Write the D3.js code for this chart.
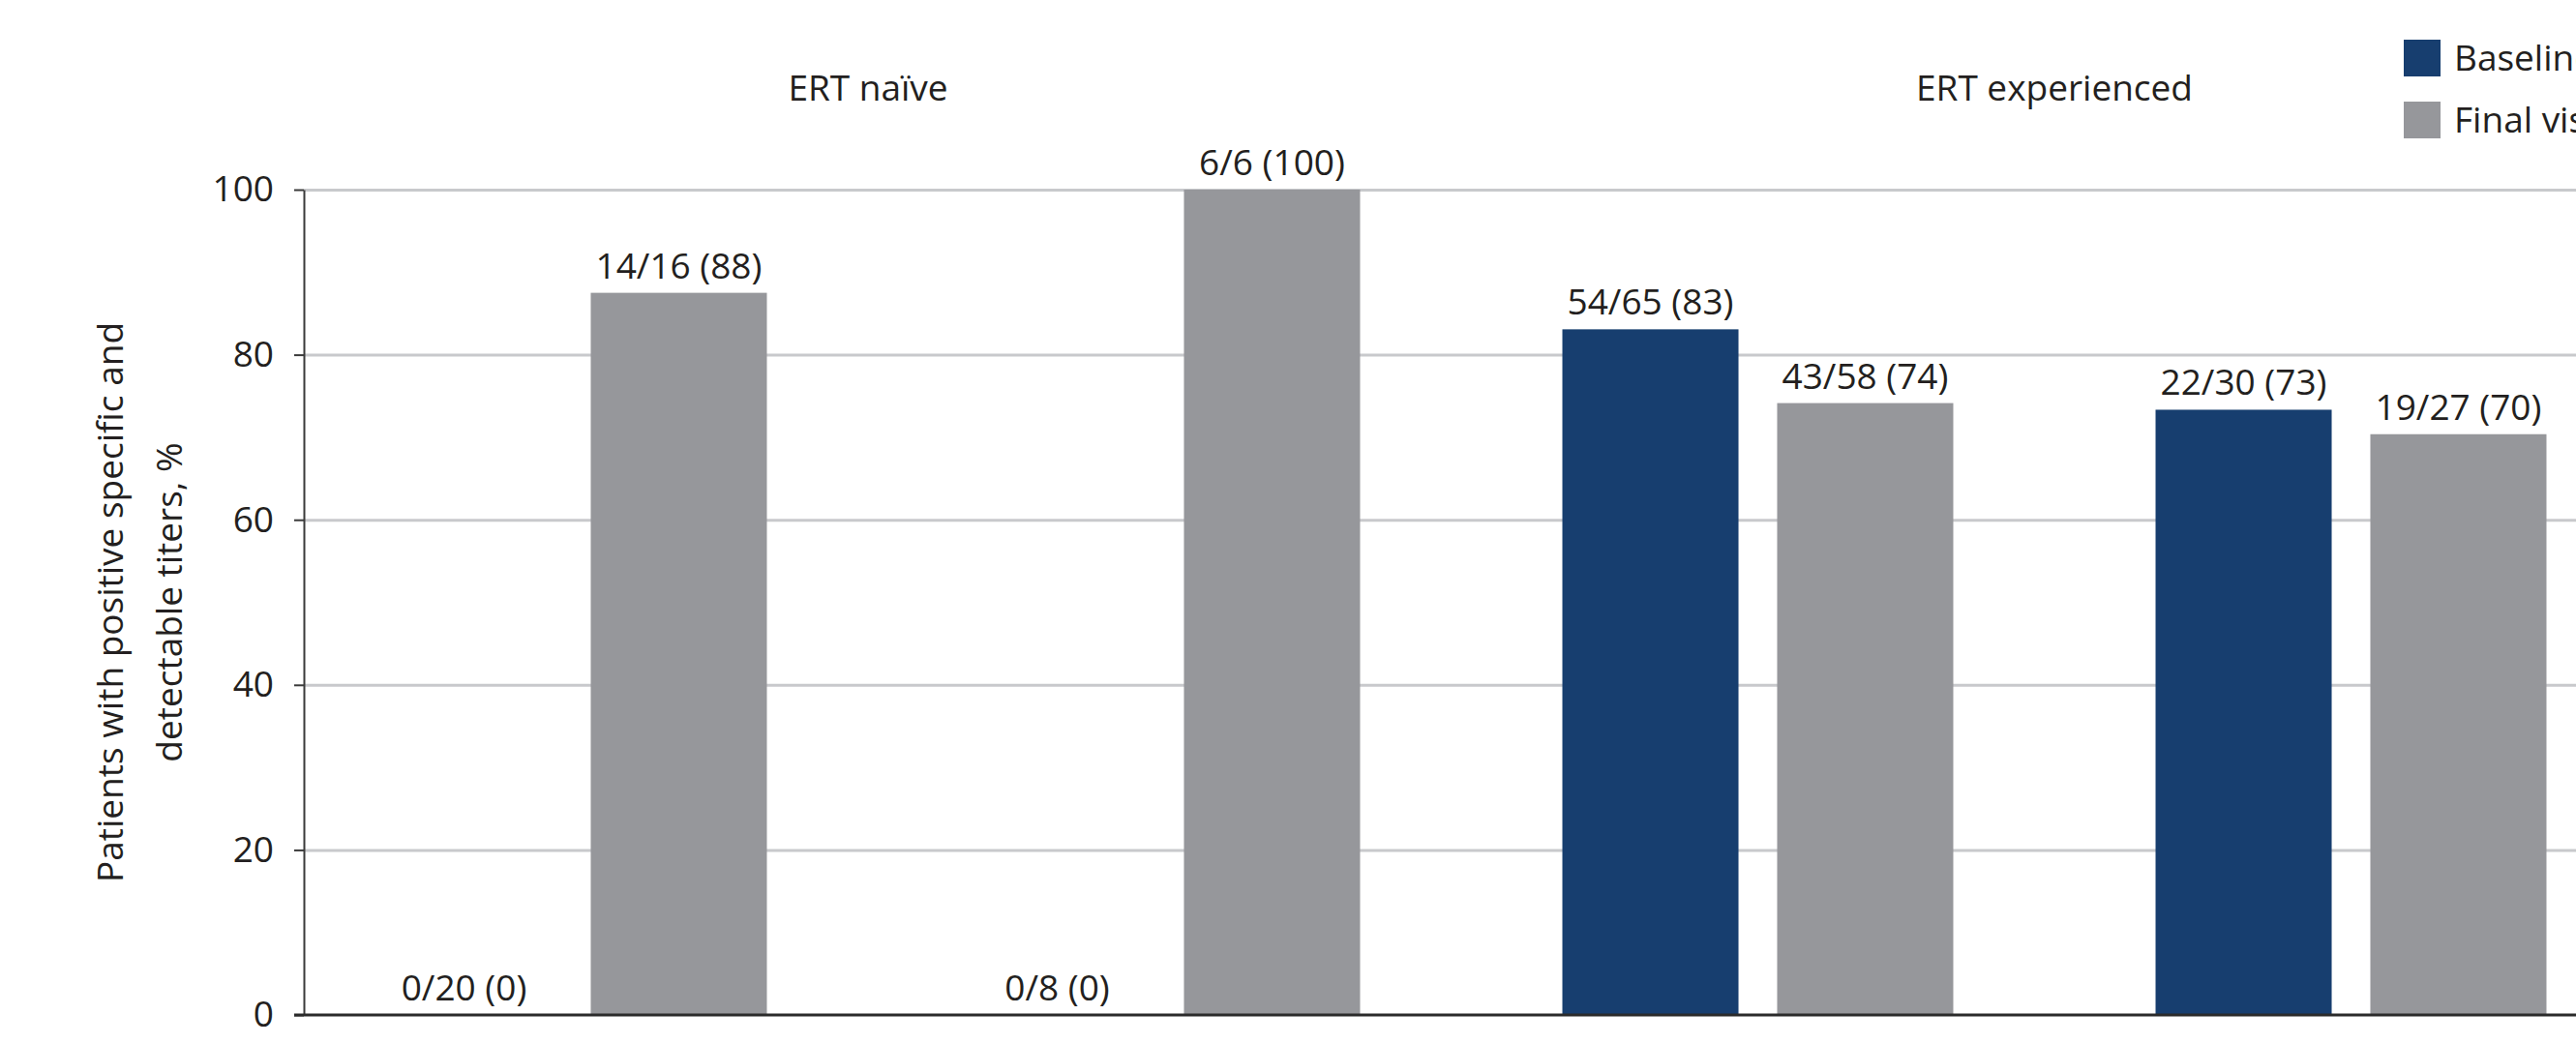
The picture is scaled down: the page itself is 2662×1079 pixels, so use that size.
<!DOCTYPE html>
<html>
<head>
<meta charset="utf-8">
<title>ERT titers</title>
<script src="https://cdnjs.cloudflare.com/ajax/libs/d3/7.8.5/d3.min.js"></script>
<style>
    body {
        margin: 0;
        padding: 0;
        background: #ffffff;
    }
    svg {
        display: block;
        font-family: 'Open Sans', sans-serif;
    }
    .txt {
        font-size: 37px;
        fill: #231f20;
    }
    .grid line {
        stroke: #c8c9cc;
        stroke-width: 3;
    }
    .yaxis path, .yaxis line {
        stroke: #3a3a3a;
        stroke-width: 2;
    }
    .yaxis text {
        font-family: 'Open Sans', sans-serif;
        font-size: 37px;
        fill: #231f20;
    }
</style>
</head>
<body>
<svg id="chart" width="2662" height="1079"></svg>
<script>
// data
var categories = ["naive_1", "naive_2", "exp_1", "exp_2"];
var cohorts = ["ERT naïve", "ERT experienced"];
var cohortOf = ["ERT naïve", "ERT naïve", "ERT experienced", "ERT experienced"];
var series = ["Baseline", "Final visit"];
var baselinePos = [0, 0, 54, 22];
var baselineTotal = [20, 8, 65, 30];
var finalPos = [14, 6, 43, 19];
var finalTotal = [16, 6, 58, 27];
var yTicks = [0, 20, 40, 60, 80, 100];

var colours = {
    "Baseline": "#173e6f",
    "Final visit": "#96979b"
};

var W = 2662, H = 1079;
// (window.top is read-only, so use other names)
var plotLeft = 314, plotTop = 196, plotBottom = 1049;

var svg = d3.select("#chart");

// build rows
var rows = categories.map(function(c, i) {
    return {
        cat: c,
        cohort: cohortOf[i],
        bars: [
            { s: "Baseline", n: baselinePos[i], N: baselineTotal[i] },
            { s: "Final visit", n: finalPos[i], N: finalTotal[i] }
        ]
    };
});

var y = d3.scaleLinear().domain([0, 100]).range([plotBottom, plotTop]);

var x0 = d3.scaleBand()
    .domain(categories)
    .range([284, 2736])
    .paddingInner(0.341)
    .paddingOuter(0.1705);

var x1 = d3.scaleBand()
    .domain(series)
    .range([0, x0.bandwidth()])
    .paddingInner(0.18);

// gridlines
svg.append("g")
    .attr("class", "grid")
    .attr("transform", "translate(" + plotLeft + ",0)")
    .call(d3.axisLeft(y)
        .tickValues(yTicks.filter(function(v) { return v > 0; }))
        .tickSize(-(W - plotLeft))
        .tickFormat(""))
    .call(function(g) { g.select(".domain").remove(); });

// bars
var groups = svg.selectAll(".cat")
    .data(rows)
    .enter()
    .append("g")
    .attr("class", "cat")
    .attr("transform", function(d) { return "translate(" + x0(d.cat) + ",0)"; });

groups.selectAll("rect")
    .data(function(d) { return d.bars; })
    .enter()
    .append("rect")
    .attr("x", function(d) { return x1(d.s); })
    .attr("width", x1.bandwidth())
    .attr("y", function(d) { return y(d.n / d.N * 100); })
    .attr("height", function(d) { return plotBottom - y(d.n / d.N * 100); })
    .style("fill", function(d) { return colours[d.s]; });

groups.selectAll("text")
    .data(function(d) { return d.bars; })
    .enter()
    .append("text")
    .attr("class", "txt")
    .attr("text-anchor", "middle")
    .attr("x", function(d) { return x1(d.s) + x1.bandwidth() / 2; })
    .attr("y", function(d) { return y(d.n / d.N * 100) - 15; })
    .text(function(d) { return d.n + "/" + d.N + " (" + Math.round(d.n / d.N * 100) + ")"; });

// y axis
svg.append("g")
    .attr("class", "yaxis")
    .attr("transform", "translate(" + plotLeft + ",0)")
    .call(d3.axisLeft(y).tickValues(yTicks).tickSize(10).tickSizeOuter(0).tickPadding(21));

// zero line
svg.append("line")
    .attr("x1", plotLeft - 10)
    .attr("x2", W)
    .attr("y1", y(0))
    .attr("y2", y(0))
    .style("stroke", "#2b2b2b")
    .style("stroke-width", 3);

// cohort headers
svg.selectAll(".cohort")
    .data(cohorts)
    .enter()
    .append("text")
    .attr("class", "txt cohort")
    .attr("text-anchor", "middle")
    .attr("x", function(c) {
        var cats = categories.filter(function(k, i) { return cohortOf[i] == c; });
        return d3.mean(cats, function(k) { return x0(k) + x0.bandwidth() / 2; });
    })
    .attr("y", 104)
    .text(function(c) { return c; });

// legend
var legend = svg.append("g").attr("transform", "translate(2484,41)");
var lg = legend.selectAll("g")
    .data(series)
    .enter()
    .append("g")
    .attr("transform", function(d, i) { return "translate(0," + (i * 64) + ")"; });
lg.append("rect")
    .attr("width", 38)
    .attr("height", 38)
    .style("fill", function(d) { return colours[d]; });
lg.append("text")
    .attr("class", "txt")
    .attr("x", 52)
    .attr("y", 32)
    .text(function(d) { return d; });

// y title
var yTitle = ["Patients with positive specific and", "detectable titers, %"];
svg.selectAll(".ytitle")
    .data(yTitle)
    .enter()
    .append("text")
    .attr("class", "txt ytitle")
    .attr("text-anchor", "middle")
    .attr("transform", function(d, i) {
        return "translate(" + (127 + i * 61) + "," + ((plotTop + plotBottom) / 2) + ") rotate(-90)";
    })
    .text(function(d) { return d; });
</script>
</body>
</html>
